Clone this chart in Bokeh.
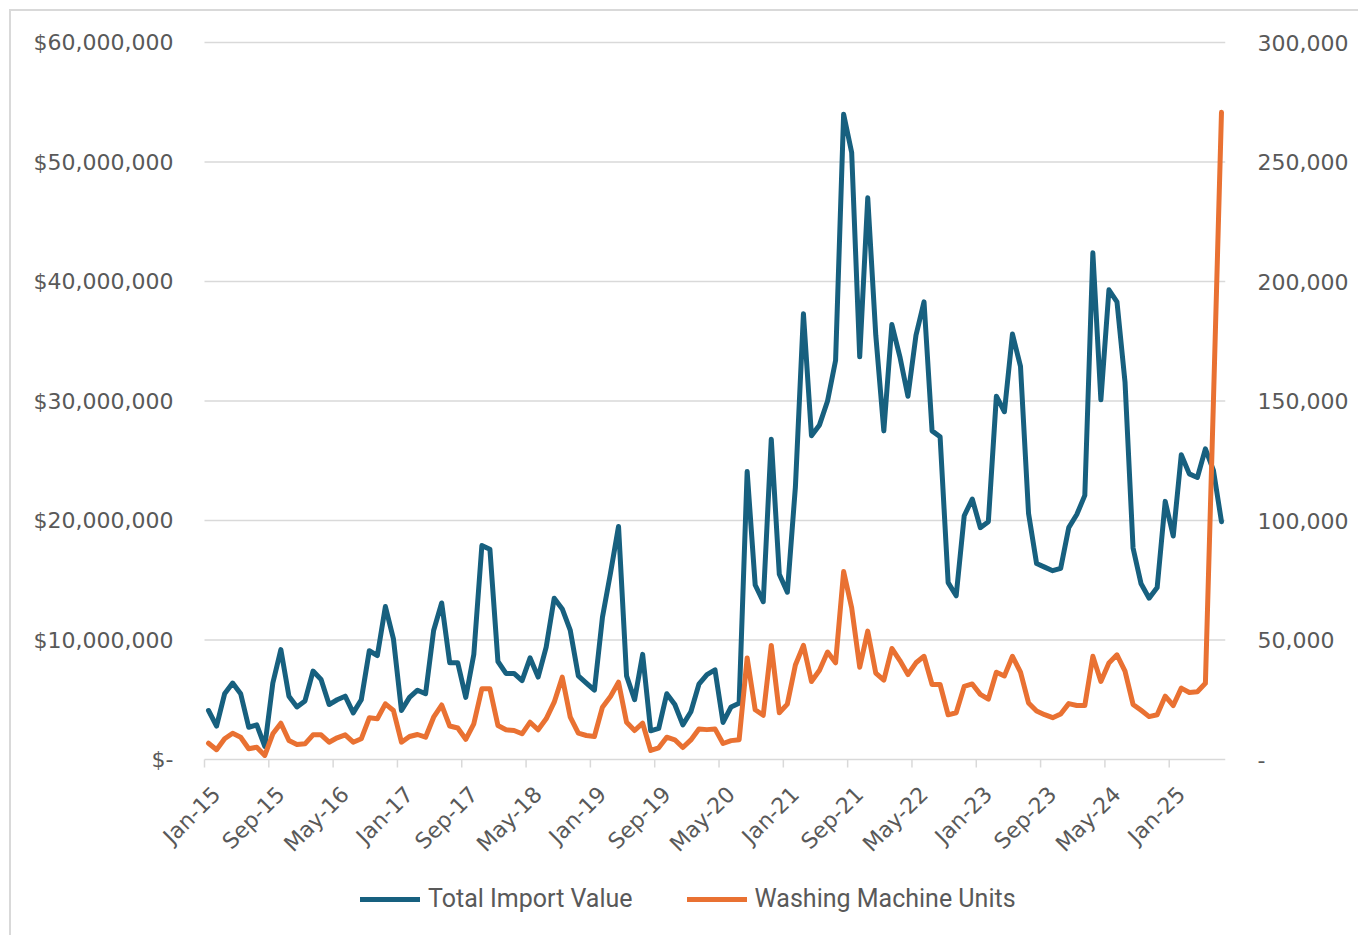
import math
import pandas as pd
from bokeh.plotting import figure
from bokeh.models import (Range1d, LinearAxis, FixedTicker, Legend, LegendItem,
                          ColumnDataSource)
from bokeh.core.properties import value
from bokeh.embed import file_html
from bokeh.resources import INLINE

# ---------------- data ----------------
months = [d.strftime("%b-%y") for d in pd.date_range("2015-01-01", periods=127, freq="MS")]

total_import_value = [
    4.1e6, 2.8e6, 5.5e6, 6.4e6, 5.5e6, 2.7e6, 2.9e6, 1.1e6, 6.4e6, 9.2e6,
    5.3e6, 4.4e6, 4.9e6, 7.4e6, 6.7e6, 4.6e6, 5.0e6, 5.3e6, 3.9e6, 5.0e6,
    9.1e6, 8.7e6, 12.8e6, 10.1e6, 4.1e6, 5.2e6, 5.8e6, 5.5e6, 10.8e6, 13.1e6,
    8.1e6, 8.1e6, 5.2e6, 8.8e6, 17.9e6, 17.6e6, 8.2e6, 7.2e6, 7.2e6, 6.6e6,
    8.5e6, 6.9e6, 9.4e6, 13.5e6, 12.6e6, 10.8e6, 7.0e6, 6.4e6, 5.8e6, 11.9e6,
    15.6e6, 19.5e6, 7.0e6, 5.0e6, 8.8e6, 2.4e6, 2.6e6, 5.5e6, 4.6e6, 2.9e6,
    4.0e6, 6.3e6, 7.1e6, 7.5e6, 3.1e6, 4.4e6, 4.7e6, 24.1e6, 14.6e6, 13.2e6,
    26.8e6, 15.5e6, 14.0e6, 22.8e6, 37.3e6, 27.1e6, 28.0e6, 30.0e6, 33.4e6, 54.0e6,
    50.8e6, 33.7e6, 47.0e6, 35.5e6, 27.5e6, 36.4e6, 33.7e6, 30.4e6, 35.5e6, 38.3e6,
    27.5e6, 27.0e6, 14.8e6, 13.7e6, 20.4e6, 21.8e6, 19.4e6, 19.9e6, 30.4e6, 29.1e6,
    35.6e6, 32.9e6, 20.6e6, 16.4e6, 16.1e6, 15.8e6, 16.0e6, 19.4e6, 20.5e6, 22.1e6,
    42.4e6, 30.1e6, 39.3e6, 38.3e6, 31.6e6, 17.7e6, 14.7e6, 13.5e6, 14.4e6, 21.6e6,
    18.7e6, 25.5e6, 23.9e6, 23.6e6, 26.0e6, 24.2e6, 19.9e6,
]

washing_machine_units = [
    6800, 4100, 8700, 11000, 9300, 4500, 5150, 1700, 10750, 15190,
    7950, 6280, 6570, 10330, 10330, 7240, 9080, 10330, 7240, 8660,
    17450, 17030, 23300, 20500, 7240, 9620, 10460, 9330, 17700, 22800,
    14000, 13200, 8450, 14940, 29580, 29580, 14230, 12430, 12130, 10750,
    15610, 12430, 17030, 23980, 34440, 17700, 11000, 10040, 9620, 21880,
    26360, 32340, 15610, 12130, 15190, 3770, 4890, 9330, 8240, 5000,
    8200, 12800, 12500, 12800, 6700, 7900, 8300, 42500, 20800, 18500,
    47740, 19580, 23180, 39540, 47740, 32640, 37360, 44980, 40460, 78620,
    63510, 38620, 53720, 36150, 33180, 46440, 41380, 35560, 40460, 43180,
    31380, 31380, 18700, 19540, 30600, 31600, 27240, 25230, 36530, 34980,
    43180, 36530, 23680, 20290, 18740, 17490, 19040, 23390, 22590, 22590,
    43180, 32670, 40410, 43800, 36990, 23050, 20580, 17950, 18740, 26480,
    22590, 29870, 28030, 28330, 31880, 150000, 270800,
]

x_tick_labels = ["Jan-15", "Sep-15", "May-16", "Jan-17", "Sep-17", "May-18",
                 "Jan-19", "Sep-19", "May-20", "Jan-21", "Sep-21", "May-22",
                 "Jan-23", "Sep-23", "May-24", "Jan-25"]

left_ticks = [0, 10e6, 20e6, 30e6, 40e6, 50e6, 60e6]
left_labels = ["$-", "$10,000,000", "$20,000,000", "$30,000,000",
               "$40,000,000", "$50,000,000", "$60,000,000"]
right_ticks = [0, 50000, 100000, 150000, 200000, 250000, 300000]
right_labels = ["-", "50,000", "100,000", "150,000", "200,000", "250,000", "300,000"]

# ---------------- styling / layout (pixels) ----------------
BLUE = "#17607f"
ORANGE = "#e97132"
GRID = "#d9d9d9"
TEXT = "#595959"
TICK_FONT = "DejaVu Sans"
LEG_FONT = "Roboto"

PLOT_W = 1021          # pixels spanned by the 127 monthly categories
LEFT_PX = 184          # frame space left of the first category (value labels)
PLOT_PX = 717          # pixels from value 0 to the top of both value axes
TOP_PX = 20            # frame space above the top gridline (room for its label)
BELOW_PX = 171         # frame space under the zero line (month labels + legend)
TICK_PX = 8            # tick mark length

n = len(months)
x_lo = -0.5 - LEFT_PX * n / PLOT_W
y_top = left_ticks[-1]
u_top = right_ticks[-1]
y_min = -y_top * BELOW_PX / PLOT_PX
y_max = y_top * (1 + TOP_PX / PLOT_PX)
u_min = -u_top * BELOW_PX / PLOT_PX
u_max = u_top * (1 + TOP_PX / PLOT_PX)

src = ColumnDataSource(dict(
    x=list(range(n)),
    month=months,
    value=total_import_value,
    units=washing_machine_units,
))

p = figure(frame_width=PLOT_W + LEFT_PX, frame_height=TOP_PX + PLOT_PX + BELOW_PX,
           output_backend="svg", toolbar_location=None,
           x_range=Range1d(x_lo, n - 0.5), y_range=Range1d(y_min, y_max),
           min_border_left=9, min_border_right=133, min_border_top=11,
           min_border_bottom=5)
p.styles = {"margin-left": "9px", "margin-top": "9px",
            "border-left": "2px solid #d9d9d9", "border-top": "2px solid #d9d9d9"}
p.outline_line_color = None
p.background_fill_color = "white"
p.border_fill_color = "white"
p.grid.visible = False
p.xaxis.visible = False
p.yaxis.visible = False

p.extra_y_ranges = {"units": Range1d(u_min, u_max)}

# horizontal gridlines across the category span
k = len(left_ticks)
p.segment(x0=[-0.5] * k, y0=left_ticks, x1=[n - 0.5] * k, y1=left_ticks,
          line_color=GRID, line_width=1.5)

# left value labels
p.text(x=[-0.5] * k, y=left_ticks, text=left_labels,
       text_align="right", text_baseline="middle", x_offset=-31,
       text_font=value(TICK_FONT), text_font_size="22px", text_color=TEXT)

# category axis: tick marks between categories and rotated month labels
x_tick_pos = [months.index(lbl) for lbl in x_tick_labels]
m = len(x_tick_pos)
tick_len = y_top * TICK_PX / PLOT_PX
p.segment(x0=[t - 0.5 for t in x_tick_pos], y0=[0] * m,
          x1=[t - 0.5 for t in x_tick_pos], y1=[-tick_len] * m,
          line_color=GRID, line_width=1.5)
p.text(x=x_tick_pos, y=[0] * m, text=x_tick_labels,
       angle=math.pi / 4, text_align="right", text_baseline="middle",
       x_offset=8, y_offset=31,
       text_font=value(TICK_FONT), text_font_size="22px", text_color=TEXT)

blue_r = p.line("x", "value", source=src, color=BLUE, line_width=5,
                line_join="round", line_cap="round")
orange_r = p.line("x", "units", source=src, color=ORANGE, line_width=5,
                  line_join="round", line_cap="round", y_range_name="units")

# right axis
yr = LinearAxis(y_range_name="units")
yr.ticker = FixedTicker(ticks=right_ticks)
yr.major_label_overrides = {t: l for t, l in zip(right_ticks, right_labels)}
yr.axis_line_color = None
yr.major_tick_line_color = None
yr.minor_tick_line_color = None
yr.major_label_standoff = 26
yr.major_label_text_font = TICK_FONT
yr.major_label_text_font_size = "22px"
yr.major_label_text_color = TEXT
p.add_layout(yr, "right")

# legend, inside the frame's lower band
legend = Legend(items=[LegendItem(label="Total Import Value", renderers=[blue_r]),
                       LegendItem(label="Washing Machine Units", renderers=[orange_r])],
                orientation="horizontal", location=(LEFT_PX + 156, 17))
legend.glyph_width = 60
legend.glyph_height = 28
legend.label_standoff = 8
legend.spacing = 54
legend.padding = 0
legend.margin = 0
legend.border_line_color = None
legend.background_fill_alpha = 0
legend.label_text_font = LEG_FONT
legend.label_text_font_size = "25px"
legend.label_text_color = TEXT
p.add_layout(legend, "center")

open("out.html", "w").write(file_html(p, INLINE))
